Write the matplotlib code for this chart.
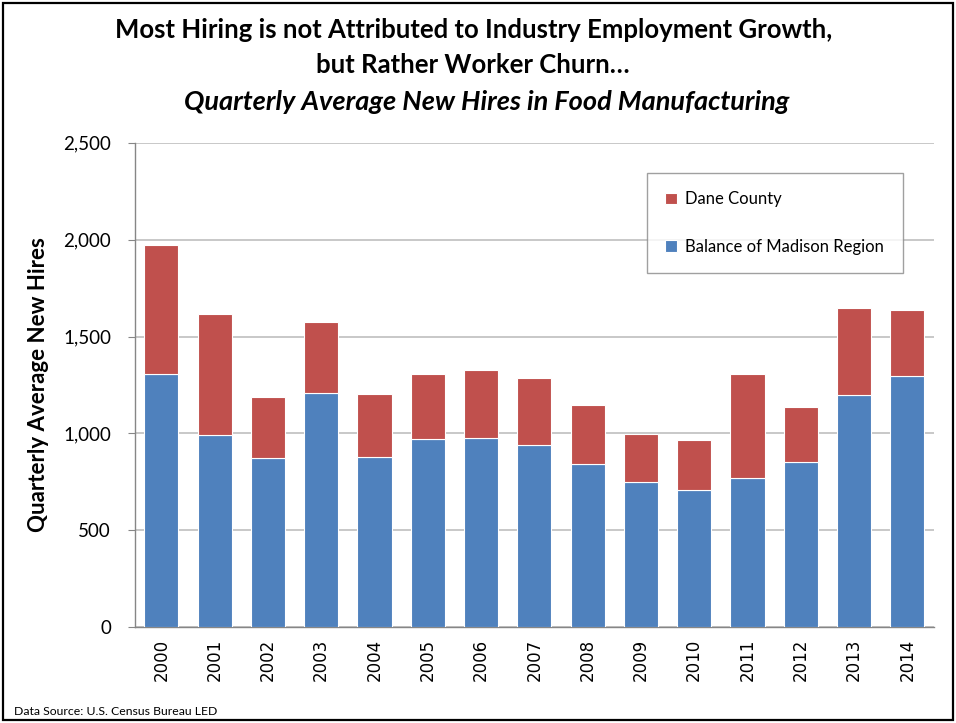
import matplotlib
matplotlib.use('Agg')
import matplotlib.pyplot as plt
from matplotlib.patches import Rectangle
import numpy as np

# Quarterly average new hires, food manufacturing
years = ['2000', '2001', '2002', '2003', '2004', '2005', '2006', '2007',
         '2008', '2009', '2010', '2011', '2012', '2013', '2014']
balance_region = [1308, 990, 872, 1209, 880, 971, 975, 939,
                  844, 750, 708, 772, 853, 1200, 1296]
bar_totals = [1970, 1614, 1188, 1573, 1202, 1305, 1326, 1288,
              1147, 996, 966, 1305, 1135, 1649, 1635]
dane_county = [t - b for t, b in zip(bar_totals, balance_region)]
yticks = [0, 500, 1000, 1500, 2000, 2500]
ytick_labels = ['0', '500', '1,000', '1,500', '2,000', '2,500']

COLORS = {
    'blue': '#4F81BD',
    'red': '#C0504D',
    'grid': '#BFBFBF',
    'axis': '#868686',
}
FONT = ['Lato', 'DejaVu Sans']

fig = plt.figure(figsize=(9.56, 7.23), dpi=100)
ax = fig.add_axes([0.1409, 0.1324, 0.8361, 0.6702])

x = np.arange(len(years))
ax.bar(x, balance_region, width=0.64, color=COLORS['blue'], edgecolor='white',
       linewidth=0.8, label='Balance of Madison Region', zorder=3)
ax.bar(x, dane_county, width=0.64, bottom=balance_region, color=COLORS['red'],
       edgecolor='white', linewidth=0.8, label='Dane County', zorder=3)

ax.set_xlim(-0.5, len(years) - 0.5)
ax.set_ylim(0, 2500)
ax.set_yticks(yticks)
ax.set_yticklabels(ytick_labels, fontsize=13.5, family=FONT)
ax.set_xticks(x)
ax.set_xticklabels(years, rotation=90, fontsize=12, family='DejaVu Sans')
ax.tick_params(axis='x', length=0, pad=8)
ax.tick_params(axis='y', length=5, color=COLORS['axis'], pad=12)
ax.grid(True, axis='y', color=COLORS['grid'], linewidth=1.2, zorder=0)
for side in ['top', 'right']:
    ax.spines[side].set_visible(False)
for side in ['left', 'bottom']:
    ax.spines[side].set_color(COLORS['axis'])
    ax.spines[side].set_linewidth(1.0)

ax.set_ylabel('Quarterly Average New Hires', fontsize=16, fontweight='bold',
              family=FONT, labelpad=10)

# legend: Dane County on top
handles, labels = ax.get_legend_handles_labels()
leg = ax.legend(handles[::-1], labels[::-1], loc='upper left',
                bbox_to_anchor=(0.641, 0.7414, 0.32, 0.196), mode='expand',
                prop={'family': FONT, 'size': 12},
                frameon=True, fancybox=False, edgecolor='#888888',
                handlelength=0.7, handleheight=0.7, handletextpad=0.5,
                labelspacing=1.9, borderpad=1.1, borderaxespad=0)
leg.get_frame().set_linewidth(1.0)
leg.set_zorder(5)

# titles
fig.text(0.495, 0.958, 'Most Hiring is not Attributed to Industry Employment Growth,',
         ha='center', va='center', fontsize=18.5, fontweight='bold', family=FONT)
fig.text(0.495, 0.910, 'but Rather Worker Churn\u2026',
         ha='center', va='center', fontsize=18.5, fontweight='bold', family=FONT)
fig.text(0.509, 0.859, 'Quarterly Average New Hires in Food Manufacturing',
         ha='center', va='center', fontsize=19.5, fontweight='bold', style='italic',
         family=FONT)

fig.text(0.015, 0.016, 'Data Source: U.S. Census Bureau LED', ha='left', va='center',
         fontsize=8.8, family=FONT)

# outer border
fig.patches.append(Rectangle((0.003, 0.004), 0.994, 0.992, transform=fig.transFigure,
                             fill=False, edgecolor='black', linewidth=1.6))

fig.savefig('out.png', dpi=100)
